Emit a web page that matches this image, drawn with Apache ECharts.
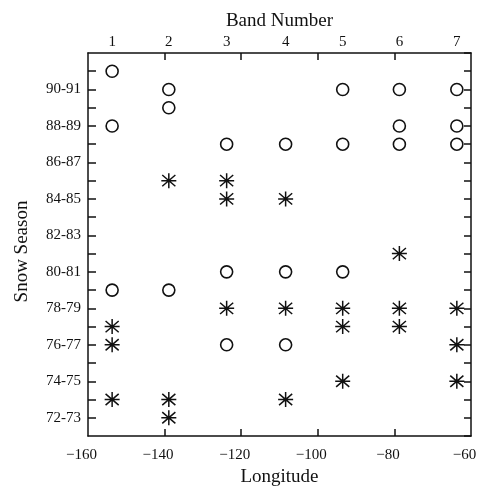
<!DOCTYPE html>
<html>
<head>
<meta charset="utf-8">
<script src="https://cdn.jsdelivr.net/npm/echarts@6/dist/echarts.min.js"></script>
<style>
html,body{margin:0;padding:0;background:#fff;}
#c{width:481px;height:486px;}
</style>
</head>
<body>
<div id="c"></div>
<script>
// Data
const bandNumbers = [1, 2, 3, 4, 5, 6, 7];
const bandLon = [-153.7, -138.9, -123.8, -108.4, -93.5, -78.7, -63.7];
// season start year (e.g. 90 = 90-91)
const circleSeasons = [[91, 88, 79], [90, 89, 79], [87, 80, 76], [87, 80, 76], [90, 87, 80], [90, 88, 87], [90, 88, 87]];
const starSeasons = [[77, 76, 73], [85, 73, 72], [85, 84, 78], [84, 78, 73], [78, 77, 74], [81, 78, 77], [78, 76, 74]];
const lonTicks = [-160, -140, -120, -100, -80, -60];
const seasonLabels = ['72-73', '74-75', '76-77', '78-79', '80-81', '82-83', '84-85', '86-87', '88-89', '90-91'];

const circleData = [];
const starData = [];
bandLon.forEach((lon, i) => {
  circleSeasons[i].forEach(s => circleData.push([lon, s]));
  starSeasons[i].forEach(s => starData.push([lon, s]));
});

const font = 'Liberation Serif';
const ink = '#111';
const chart = echarts.init(document.getElementById('c'), null, {renderer: 'canvas'});
const lineStyle = {color: ink, width: 1.5};

chart.setOption({
  animation: false,
  backgroundColor: '#fff',
  grid: {left: 88, right: 10, top: 53, bottom: 50, containLabel: false, outerBoundsMode: 'none'},
  xAxis: [{
    type: 'value', min: -160, max: -60, interval: 20,
    position: 'bottom',
    name: 'Longitude', nameLocation: 'middle', nameGap: 31,
    nameTextStyle: {fontFamily: font, fontSize: 19, color: ink},
    axisLine: {show: true, lineStyle: lineStyle},
    axisTick: {show: true, inside: true, length: 7, lineStyle: lineStyle, customValues: [-140, -120, -100, -80]},
    axisLabel: {fontFamily: font, fontSize: 15, color: ink, margin: 12, padding: [0, 13, 0, 0],
      customValues: lonTicks,
      formatter: v => String(v).replace('-', '\u2212')},
    splitLine: {show: false}
  }, {
    type: 'value', min: -160, max: -60,
    position: 'top',
    name: 'Band Number', nameLocation: 'middle', nameGap: 22,
    nameTextStyle: {fontFamily: font, fontSize: 19, color: ink},
    axisLine: {show: true, lineStyle: lineStyle},
    axisTick: {show: true, inside: true, length: 7, lineStyle: lineStyle, customValues: [-140, -120, -100, -80]},
    axisLabel: {fontFamily: font, fontSize: 15, color: ink, margin: 3,
      customValues: bandLon,
      formatter: v => {
        const i = bandLon.findIndex(l => Math.abs(l - v) < 0.01);
        return i >= 0 ? String(bandNumbers[i]) : '';
      }},
    splitLine: {show: false}
  }],
  yAxis: [{
    type: 'value', min: 71, max: 92, interval: 1,
    position: 'left',
    name: 'Snow Season', nameLocation: 'middle', nameGap: 56, nameRotate: 90,
    nameTextStyle: {fontFamily: font, fontSize: 19, color: ink, padding: [0, 14, 0, 0]},
    axisLine: {show: true, lineStyle: lineStyle},
    axisTick: {show: true, inside: true, length: 8, lineStyle: lineStyle},
    axisLabel: {fontFamily: font, fontSize: 15, color: ink, margin: 7,
      showMinLabel: false, showMaxLabel: false,
      formatter: v => {
        const idx = (v - 72) / 2;
        return Number.isInteger(idx) && idx >= 0 && idx < seasonLabels.length ? seasonLabels[idx] : '';
      }},
    splitLine: {show: false}
  }, {
    type: 'value', min: 71, max: 92, interval: 1,
    position: 'right',
    axisLine: {show: true, lineStyle: lineStyle},
    axisTick: {show: true, inside: true, length: 7, lineStyle: lineStyle},
    axisLabel: {show: false},
    splitLine: {show: false}
  }],
  series: [{
    type: 'scatter', name: 'circle', data: circleData,
    symbol: 'circle', symbolSize: 12,
    itemStyle: {color: 'rgba(0,0,0,0)', borderColor: ink, borderWidth: 1.6, opacity: 1}
  }, {
    type: 'scatter', name: 'star', data: starData,
    symbol: 'path://M8,0L8,16M1,2L15,14M1,14L15,2M0,8L16,8',
    symbolSize: [15, 15],
    itemStyle: {color: 'rgba(0,0,0,0)', borderColor: ink, borderWidth: 1.5, opacity: 1}
  }]
});
</script>
</body>
</html>
